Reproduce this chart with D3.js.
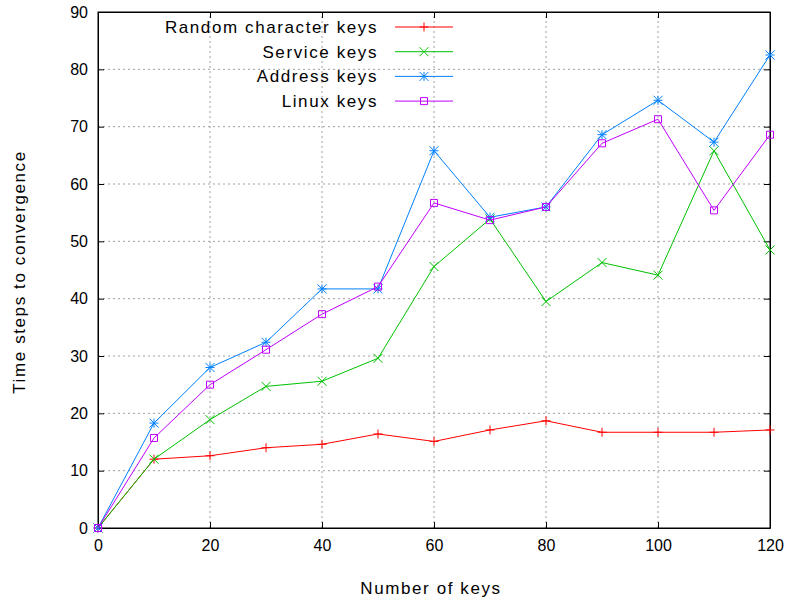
<!DOCTYPE html>
<html><head><meta charset="utf-8">
<script src="https://cdn.jsdelivr.net/npm/d3@7"></script>
<style>body{margin:0;background:#fff}svg{font-family:"Liberation Sans",Arial,sans-serif}.lbl{letter-spacing:1.6px}</style>
</head><body>
<script>
const keys = [0, 10, 20, 30, 40, 50, 60, 70, 80, 90, 100, 110, 120];
const randomKeys = [0, 12.0, 12.6, 14.0, 14.6, 16.4, 15.1, 17.1, 18.7, 16.7, 16.7, 16.7, 17.1];
const serviceKeys = [0, 12.0, 18.9, 24.7, 25.6, 29.6, 45.6, 53.9, 39.5, 46.3, 44.1, 65.8, 48.5];
const addressKeys = [0, 18.3, 28.0, 32.4, 41.7, 41.7, 65.8, 54.2, 56.0, 68.6, 74.6, 67.3, 82.5];
const linuxKeys = [0, 15.7, 25.0, 31.1, 37.3, 42.1, 56.7, 53.7, 56.0, 67.1, 71.3, 55.4, 68.6];
const seriesNames = ['Random character keys', 'Service keys', 'Address keys', 'Linux keys'];
const xTicks = [0, 20, 40, 60, 80, 100, 120];
const yTicks = [0, 10, 20, 30, 40, 50, 60, 70, 80, 90];

const series = [
  {name: seriesNames[0], vals: randomKeys, color: '#ff0000', mark: 'plus'},
  {name: seriesNames[1], vals: serviceKeys, color: '#00c000', mark: 'cross'},
  {name: seriesNames[2], vals: addressKeys, color: '#0080ff', mark: 'star'},
  {name: seriesNames[3], vals: linuxKeys, color: '#c000ff', mark: 'square'}
];

const W = 790, H = 605, L = 98, R = 770, T = 12, B = 528;
const svg = d3.select('body').append('svg').attr('width', W).attr('height', H);
const x = d3.scaleLinear().domain([0, 120]).range([L, R]);
const y = d3.scaleLinear().domain([0, 90]).range([B, T]);

// grid
svg.append('g').selectAll('line').data(xTicks.slice(1, -1)).enter().append('line')
  .attr('x1', d => x(d)).attr('x2', d => x(d)).attr('y1', B).attr('y2', T)
  .attr('stroke', '#a0a0a0').attr('stroke-dasharray', '2,3');
svg.append('g').selectAll('line').data(yTicks.slice(1, -1)).enter().append('line')
  .attr('x1', L).attr('x2', R).attr('y1', d => y(d)).attr('y2', d => y(d))
  .attr('stroke', '#a0a0a0').attr('stroke-dasharray', '2,3');

// axes
const ax = svg.append('g').attr('transform', `translate(0,${B})`)
  .call(d3.axisBottom(x).tickValues(xTicks).tickSizeInner(-6).tickSizeOuter(0).tickPadding(12));
const ay = svg.append('g').attr('transform', `translate(${L},0)`)
  .call(d3.axisLeft(y).tickValues(yTicks).tickSizeInner(-6).tickSizeOuter(0).tickPadding(10));
const ax2 = svg.append('g').attr('transform', `translate(0,${T})`)
  .call(d3.axisTop(x).tickValues(xTicks).tickSizeInner(-6).tickSizeOuter(0).tickFormat(''));
const ay2 = svg.append('g').attr('transform', `translate(${R},0)`)
  .call(d3.axisRight(y).tickValues(yTicks).tickSizeInner(-6).tickSizeOuter(0).tickFormat(''));
[ax, ay, ax2, ay2].forEach(g => {
  g.selectAll('text').attr('font-size', 16).attr('fill', '#000').attr('font-family', '"Liberation Sans",Arial,sans-serif');
  g.select('.domain').attr('stroke', '#000');
});
svg.append('rect').attr('x', L).attr('y', T).attr('width', R - L).attr('height', B - T)
  .attr('fill', 'none').attr('stroke', '#000');

svg.append('text').attr('class', 'lbl').attr('x', (L + R) / 2 - 3).attr('y', 594).attr('text-anchor', 'middle')
  .attr('font-size', 17).text('Number of keys');
svg.append('text').attr('class', 'lbl').attr('transform', `translate(25,${(T + B) / 2 + 2}) rotate(-90)`)
  .attr('text-anchor', 'middle').attr('font-size', 17).text('Time steps to convergence');

function marker(g, type, px, py, color) {
  const s = 4.5;
  const p = g.append('path').attr('stroke', color).attr('fill', 'none').attr('stroke-width', 1);
  if (type === 'plus') p.attr('d', `M${px-s},${py}H${px+s}M${px},${py-s}V${py+s}`);
  else if (type === 'cross') p.attr('d', `M${px-s},${py-s}L${px+s},${py+s}M${px-s},${py+s}L${px+s},${py-s}`);
  else if (type === 'star') p.attr('d', `M${px-s},${py}H${px+s}M${px},${py-s}V${py+s}M${px-s},${py-s}L${px+s},${py+s}M${px-s},${py+s}L${px+s},${py-s}`);
  else p.attr('d', `M${px-3.5},${py-3.5}h7v7h-7z`);
}

const line = d3.line().x((d, i) => x(keys[i])).y(d => y(d));
series.forEach((s, si) => {
  const g = svg.append('g');
  g.append('path').attr('d', line(s.vals)).attr('fill', 'none').attr('stroke', s.color).attr('stroke-width', 1);
  s.vals.forEach((v, i) => marker(g, s.mark, x(keys[i]), y(v), s.color));
  const ly = 27 + si * 24.7;
  svg.append('text').attr('class', 'lbl').attr('x', 378).attr('y', ly + 6).attr('text-anchor', 'end')
    .attr('font-size', 17).text(s.name);
  g.append('line').attr('x1', 395).attr('x2', 453).attr('y1', ly).attr('y2', ly).attr('stroke', s.color);
  marker(g, s.mark, 424, ly, s.color);
});
</script>
</body></html>
